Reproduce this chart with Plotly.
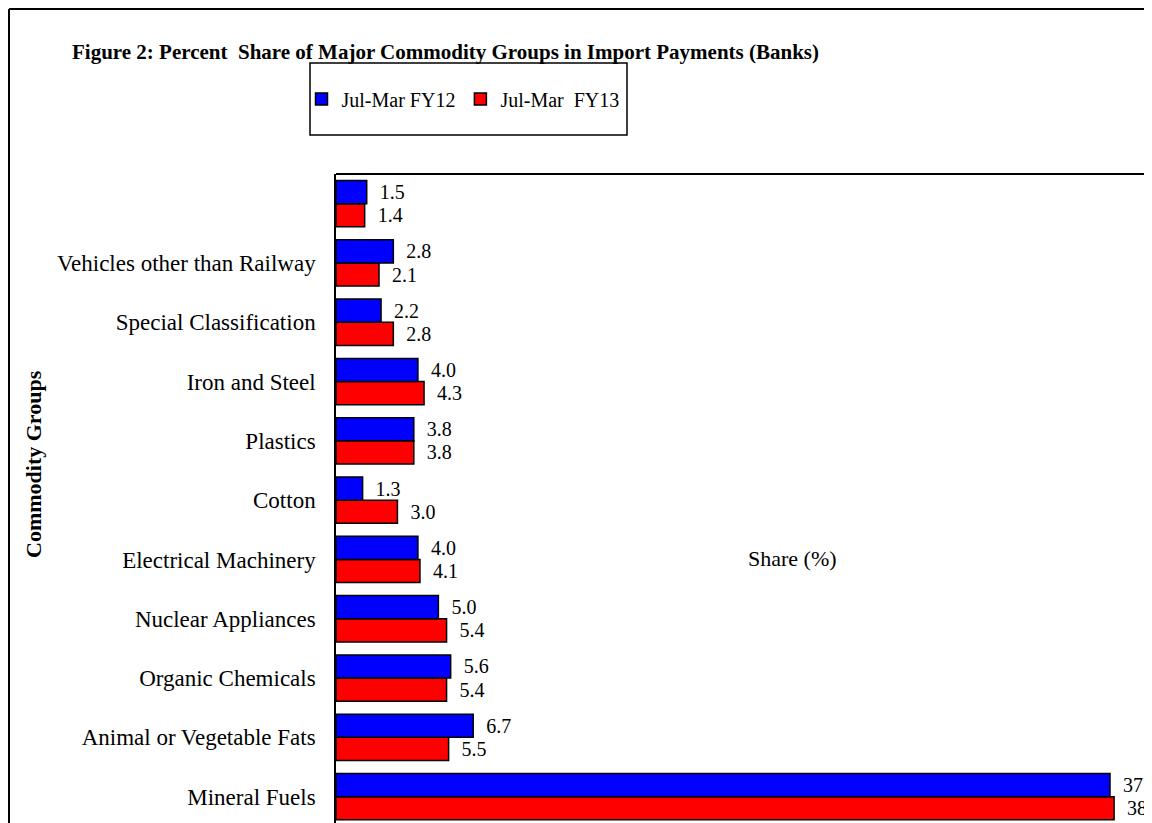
import plotly.graph_objects as go

categories = ["Mineral Fuels", "Animal or Vegetable Fats", "Organic Chemicals",
              "Nuclear Appliances", "Electrical Machinery", "Cotton", "Plastics",
              "Iron and Steel", "Special Classification", "Vehicles other than Railway", " "]
fy12 = [37.8, 6.7, 5.6, 5.0, 4.0, 1.3, 3.8, 4.0, 2.2, 2.8, 1.5]
fy13 = [38.0, 5.5, 5.4, 5.4, 4.1, 3.0, 3.8, 4.3, 2.8, 2.1, 1.4]
series_names = ["Jul-Mar FY12", "Jul-Mar  FY13"]

# page has an 8px body margin; work in screen coordinates
O = 8
SW, SH = 1152, 823
W, H = SW - O, SH - O
L, T = 336, 174          # screen position of plot-area left/top
Lf, Tf = L - O, T - O    # in-figure margins
pw, ph = W - Lf, H - Tf

def px(x):
    return (x - L) / pw

def py(y):
    return (SH - y) / ph

FONT = "Liberation Serif, Times New Roman, serif"

fig = go.Figure()
fig.add_trace(go.Bar(
    y=categories, x=fy13, orientation="h", name=series_names[1],
    marker=dict(color="#ff0000", line=dict(color="black", width=1.5)),
    texttemplate="\u00a0\u00a0%{x:.1f}", textposition="outside",
    textfont=dict(family=FONT, size=20, color="black"),
    cliponaxis=False, constraintext="none", legendrank=2,
))
fig.add_trace(go.Bar(
    y=categories, x=fy12, orientation="h", name=series_names[0],
    marker=dict(color="#0000ff", line=dict(color="black", width=1.5)),
    texttemplate="\u00a0\u00a0%{x:.1f}", textposition="outside",
    textfont=dict(family=FONT, size=20, color="black"),
    cliponaxis=False, constraintext="none", legendrank=1,
))

x_per_px = 37.8 / (1110 - L)
band = 59.3
ybottom = 10.5 - (SH - T) / band

fig.update_layout(
    width=W, height=H,
    margin=dict(l=Lf, r=0, t=Tf, b=0, pad=0),
    paper_bgcolor="white", plot_bgcolor="white",
    barmode="group", bargap=0.22, bargroupgap=0,
    font=dict(family=FONT, size=20, color="black"),
    showlegend=True,
    legend=dict(orientation="h", x=px(463), y=py(99), xanchor="center", yanchor="middle",
                bgcolor="rgba(0,0,0,0)", borderwidth=0, itemwidth=30,
                font=dict(family=FONT, size=20, color="black"), traceorder="normal"),
    xaxis=dict(range=[0, pw * x_per_px], showgrid=False, zeroline=False,
               showticklabels=False, showline=False, ticks=""),
    yaxis=dict(type="category", range=[ybottom, 10.5], showgrid=False, zeroline=False,
               showline=True, linecolor="black", linewidth=1.5, ticks="",
               ticklabelstandoff=14, tickfont=dict(family=FONT, size=23, color="black")),
)

shapes = [
    # outer frame (left and top)
    dict(type="line", xref="paper", yref="paper", x0=px(9), x1=px(SW + 5), y0=py(9), y1=py(9),
         line=dict(color="black", width=2)),
    dict(type="line", xref="paper", yref="paper", x0=px(9), x1=px(9), y0=py(9), y1=py(SH + 5),
         line=dict(color="black", width=2)),
    # plot top line
    dict(type="line", xref="paper", yref="paper", x0=0, x1=px(SW + 5), y0=1, y1=1,
         line=dict(color="black", width=2)),
    # legend box
    dict(type="rect", xref="paper", yref="paper", x0=px(310), x1=px(627), y0=py(135), y1=py(63),
         line=dict(color="black", width=1.5), fillcolor="rgba(0,0,0,0)"),
]
fig.update_layout(shapes=shapes)

fig.add_annotation(text="<b>Figure 2: Percent  Share of Major Commodity Groups in Import Payments (Banks)</b>",
                   xref="paper", yref="paper", x=px(70), y=py(52), xanchor="left", yanchor="middle",
                   showarrow=False, font=dict(family=FONT, size=21, color="black"))
fig.add_annotation(text="<b>Commodity Groups</b>", textangle=-90,
                   xref="paper", yref="paper", x=px(33), y=py(464), xanchor="center", yanchor="middle",
                   showarrow=False, font=dict(family=FONT, size=22, color="black"))
fig.add_annotation(text="Share (%)", xref="paper", yref="paper", x=px(792), y=py(558),
                   xanchor="center", yanchor="middle", showarrow=False,
                   font=dict(family=FONT, size=22, color="black"))

fig.write_html("out.html")
